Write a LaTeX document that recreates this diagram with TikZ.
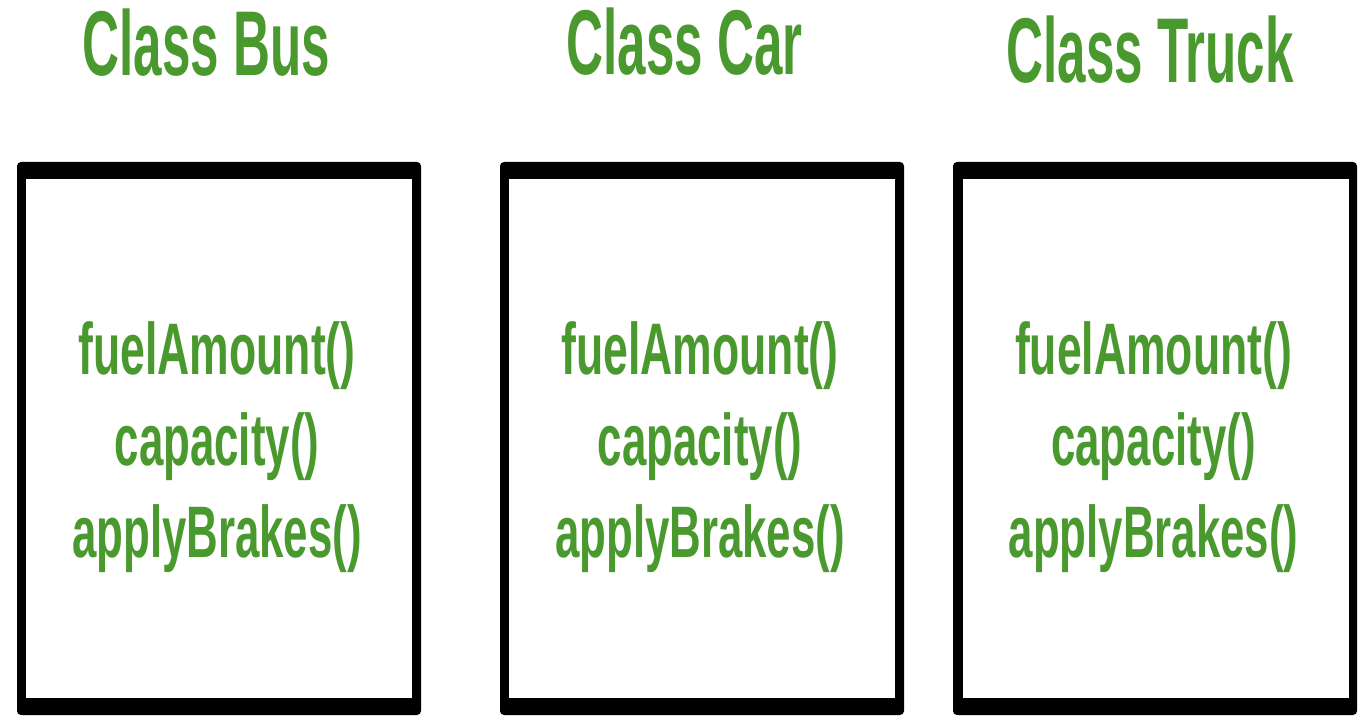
\documentclass[tikz,border=0pt]{standalone}
\usepackage{fontspec}
\setmainfont{Liberation Sans}
\definecolor{gfg}{RGB}{74,153,46}
\newcommand{\sqz}[2]{\scalebox{#1}[1]{#2}}
\tikzset{
  frameout/.style={fill=black, rounded corners=4pt, inner sep=0pt, outer sep=0pt,
    minimum width=404pt, minimum height=553pt},
  framein/.style={fill=white, inner sep=0pt, outer sep=0pt,
    minimum width=386pt, minimum height=519pt},
  title/.style={text=gfg, anchor=base, inner sep=0pt,
    font=\fontsize{92}{92}\selectfont\bfseries},
  member/.style={text=gfg, anchor=base, inner sep=0pt,
    font=\fontsize{73}{73}\selectfont\bfseries},
}
\begin{document}
\begin{tikzpicture}[x=1pt,y=-1pt]
\useasboundingbox (0,0) rectangle (1368,722);
\fill[white] (0,0) rectangle (1368,722);
% titles
\node[title] (tbus) at (206.5,76) {\sqz{0.556}{Class Bus}};
\node[title] (tcar) at (684.5,75) {\sqz{0.556}{Class Car}};
\node[title] (ttruck) at (1150,83) {\sqz{0.556}{Class Truck}};
% boxes
\node[frameout] (busbox) at (219,438.5) {};
\node[framein] (busin) at (219,438.5) {};
\node[frameout] (carbox) at (702,438.5) {};
\node[framein] (carin) at (702,438.5) {};
\node[frameout] (truckbox) at (1155,438.5) {};
\node[framein] (truckin) at (1155.5,438.5) {};
% members
\foreach \n/\cx in {bus/217, car/700, truck/1153.5}{
  \node[member] (\n1) at (\cx,374) {\sqz{0.61}{fuelAmount()}};
  \node[member] (\n2) at (\cx,465) {\sqz{0.60}{capacity()}};
  \node[member] (\n3) at (\cx,557) {\sqz{0.60}{applyBrakes()}};
}
\end{tikzpicture}
\end{document}
